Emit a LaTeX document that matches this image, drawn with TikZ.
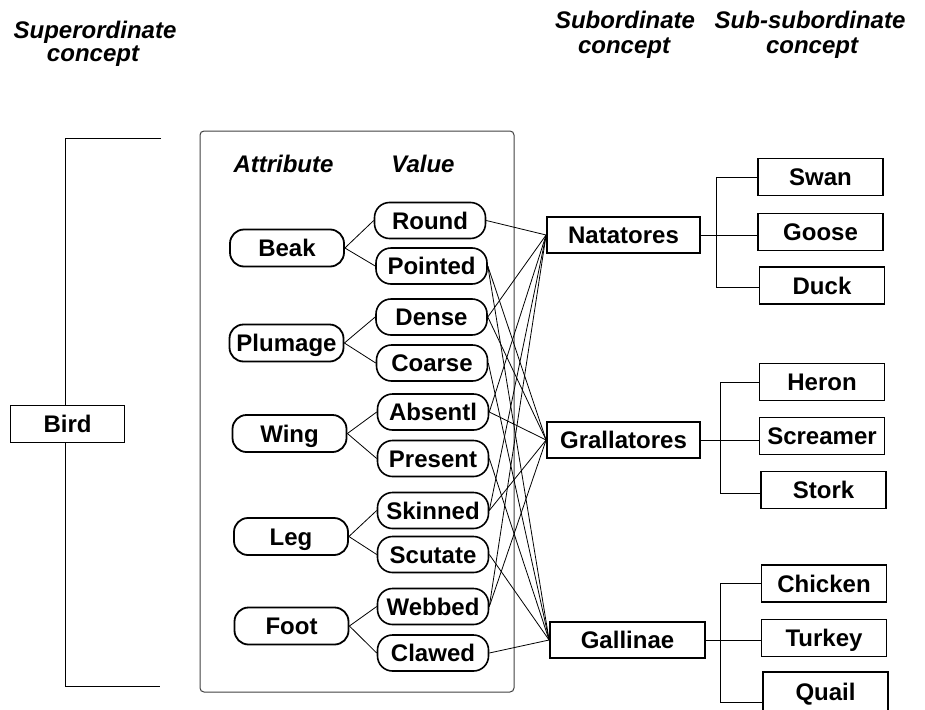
\documentclass[tikz,border=0pt]{standalone}
\usepackage{fontspec}
\setmainfont{Liberation Sans}
\begin{document}
\begin{tikzpicture}[x=1pt,y=-1pt,
  ttl/.style={font=\fontsize{24}{27}\selectfont\bfseries\itshape, inner sep=0, anchor=base},
  boxtext/.style={font=\fontsize{24}{26}\selectfont\bfseries, inner sep=0, text height=17pt, text depth=0pt, align=center},
  sqbox/.style={boxtext, draw, line width=1.8pt, fill=white, minimum height=37pt},
  attrbox/.style={boxtext, draw, line width=1.8pt, fill=white, rounded corners=14pt, minimum width=114pt, minimum height=37pt},
  valbox/.style={boxtext, draw, line width=1.6pt, fill=white, rounded corners=15pt, minimum width=111pt, minimum height=36pt},
  link/.style={line width=0.8pt},
  tree/.style={line width=1pt}
]
\useasboundingbox (0,0) rectangle (925,709);

% titles
\node[ttl] (sup1) at (95,39) {Superordinate};
\node[ttl] (sup2) at (93,62) {concept};
\node[ttl] (sub1) at (625,29) {Subordinate};
\node[ttl] (sub2) at (624,53) {concept};
\node[ttl] (ss1) at (810,29) {Sub-subordinate};
\node[ttl] (ss2) at (812,53) {concept};

% bracket for Bird
\coordinate (bt) at (161,138);
\coordinate (bb) at (160,686);
\coordinate (bx) at (65,0);
\draw[tree] (bt) -- (bt -| bx) -- (bb -| bx) -- (bb);
\node[sqbox, minimum width=114pt] (bird) at (67.5,424) {Bird};

% frame
\node[draw=black!75, line width=1pt, rounded corners=4pt, minimum width=314pt, minimum height=561pt, inner sep=0] (frame) at (357,411.5) {};
\node[ttl] (hattr) at (283.5,172) {Attribute};
\node[ttl] (hval) at (423,172) {Value};

% attributes
\node[attrbox] (beak) at (287,248) {Beak};
\node[attrbox] (plumage) at (286.5,343) {Plumage};
\node[attrbox] (wing) at (289.5,433.5) {Wing};
\node[attrbox] (leg) at (291,536.5) {Leg};
\node[attrbox] (foot) at (291.5,626) {Foot};

% values
\node[valbox] (round) at (430,220.5) {Round};
\node[valbox] (pointed) at (431.5,266) {Pointed};
\node[valbox] (dense) at (431.5,317) {Dense};
\node[valbox] (coarse) at (432,363) {Coarse};
\node[valbox] (absent) at (433,412) {Absentl};
\node[valbox] (present) at (433,458.5) {Present};
\node[valbox] (skinned) at (433,510.5) {Skinned};
\node[valbox] (scutate) at (433,554.5) {Scutate};
\node[valbox] (webbed) at (433,606.5) {Webbed};
\node[valbox] (clawed) at (433,653) {Clawed};

\foreach \a/\u/\v in {beak/round/pointed, plumage/dense/coarse, wing/absent/present, leg/skinned/scutate, foot/webbed/clawed}{
  \draw[link] (\a.east) -- (\u.west);
  \draw[link] (\a.east) -- (\v.west);
}

% subordinate
\node[sqbox, minimum width=153pt, minimum height=36pt] (nat) at (623.5,235) {Natatores};
\node[sqbox, minimum width=153pt, minimum height=36pt] (gra) at (623.5,440) {Grallatores};
\node[sqbox, minimum width=155pt, minimum height=36pt] (gal) at (627.5,640) {Gallinae};

\foreach \v in {round, dense, absent, skinned, webbed}{\draw[link] (\v.east) -- (nat.west);}
\foreach \v in {pointed, dense, absent, skinned, webbed}{\draw[link] (\v.east) -- (gra.west);}
\foreach \v in {pointed, coarse, present, scutate, clawed}{\draw[link] (\v.east) -- (gal.west);}

% sub-subordinate
\node[sqbox, minimum width=125pt] (swan) at (820.5,177) {Swan};
\node[sqbox, minimum width=125pt] (goose) at (820.5,232) {Goose};
\node[sqbox, minimum width=125pt] (duck) at (822,285.5) {Duck};
\node[sqbox, minimum width=125pt] (heron) at (822,382) {Heron};
\node[sqbox, minimum width=125pt] (screamer) at (822,436) {Screamer};
\node[sqbox, minimum width=125pt] (stork) at (823.5,490) {Stork};
\node[sqbox, minimum width=125pt] (chicken) at (824,583.5) {Chicken};
\node[sqbox, minimum width=125pt] (turkey) at (824,638) {Turkey};
\node[sqbox, minimum width=125pt, minimum height=40pt] (quail) at (825.5,692) {Quail};

\coordinate (j1) at (716,0);
\coordinate (j2) at (720.7,0);
\coordinate (j3) at (720.7,0);
\coordinate (qend) at (763,702);

\draw[tree] (nat.east) -- (nat.east -| goose.west);
\draw[tree] (swan.west) -- (swan.west -| j1) -- ([yshift=-2pt]duck.west -| j1) -- ([yshift=-2pt]duck.west);
\draw[tree] (gra.east) -- (gra.east -| screamer.west);
\draw[tree] (heron.west) -- (heron.west -| j2) -- ([yshift=-3pt]stork.west -| j2) -- ([yshift=-3pt]stork.west);
\draw[tree] (gal.east) -- (gal.east -| turkey.west);
\draw[tree] (chicken.west) -- (chicken.west -| j3) -- (qend -| j3) -- (qend);
\end{tikzpicture}
\end{document}
